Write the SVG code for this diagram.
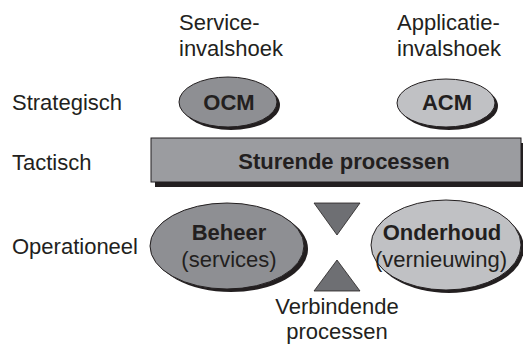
<svg xmlns="http://www.w3.org/2000/svg" width="523" height="352" viewBox="0 0 523 352">
<style>
text{font-family:"Liberation Sans",Arial,sans-serif;font-size:22px;fill:#231f20}
.b{font-weight:bold}
.m{text-anchor:middle}
.sh{fill:#231f20}
.dk{fill:#8e8f93;stroke:#231f20;stroke-width:1}
.lt{fill:#c0c1c4;stroke:#231f20;stroke-width:1}
.bar{fill:#9b9ca0;stroke:#231f20;stroke-width:1}
.tri{fill:#6e6f73;stroke:#231f20;stroke-width:0.8}
</style>
<rect width="523" height="352" fill="#ffffff"/>
<g id="col-labels">
<text x="179" y="30">Service-</text>
<text x="179" y="56">invalshoek</text>
<text x="397" y="30">Applicatie-</text>
<text x="397" y="56">invalshoek</text>
</g>
<g id="row-labels">
<text x="12" y="110">Strategisch</text>
<text x="12" y="170">Tactisch</text>
<text x="12" y="254">Operationeel</text>
</g>
<g id="ocm">
<ellipse class="sh" cx="231" cy="105" rx="49" ry="25"/>
<ellipse class="dk" cx="228" cy="102" rx="49" ry="25"/>
<text class="b m" x="229" y="110">OCM</text>
</g>
<g id="acm">
<ellipse class="sh" cx="449" cy="106" rx="49" ry="24"/>
<ellipse class="lt" cx="446" cy="103" rx="49" ry="24"/>
<text class="b m" x="447" y="110">ACM</text>
</g>
<g id="sturende">
<rect class="sh" x="155" y="143" width="370" height="44"/>
<rect class="bar" x="151" y="138" width="370" height="44"/>
<text class="b m" x="344" y="169">Sturende processen</text>
</g>
<g id="beheer">
<ellipse class="sh" cx="231" cy="249" rx="77" ry="43"/>
<ellipse class="dk" cx="227" cy="246" rx="77" ry="43"/>
<text class="b m" x="229" y="240">Beheer</text>
<text class="m" x="229" y="267">(services)</text>
</g>
<g id="onderhoud">
<ellipse class="sh" cx="449" cy="248" rx="75" ry="45"/>
<ellipse class="lt" cx="446" cy="245" rx="75" ry="45"/>
<text class="b m" x="442" y="240">Onderhoud</text>
<text class="m" x="441" y="267">(vernieuwing)</text>
</g>
<g id="connectors">
<polygon class="tri" points="314,203 360,203 337,235"/>
<polygon class="tri" points="337,260 360,291 314,291"/>
</g>
<g id="verbindende">
<text class="m" x="337" y="314">Verbindende</text>
<text class="m" x="337" y="339">processen</text>
</g>
</svg>
